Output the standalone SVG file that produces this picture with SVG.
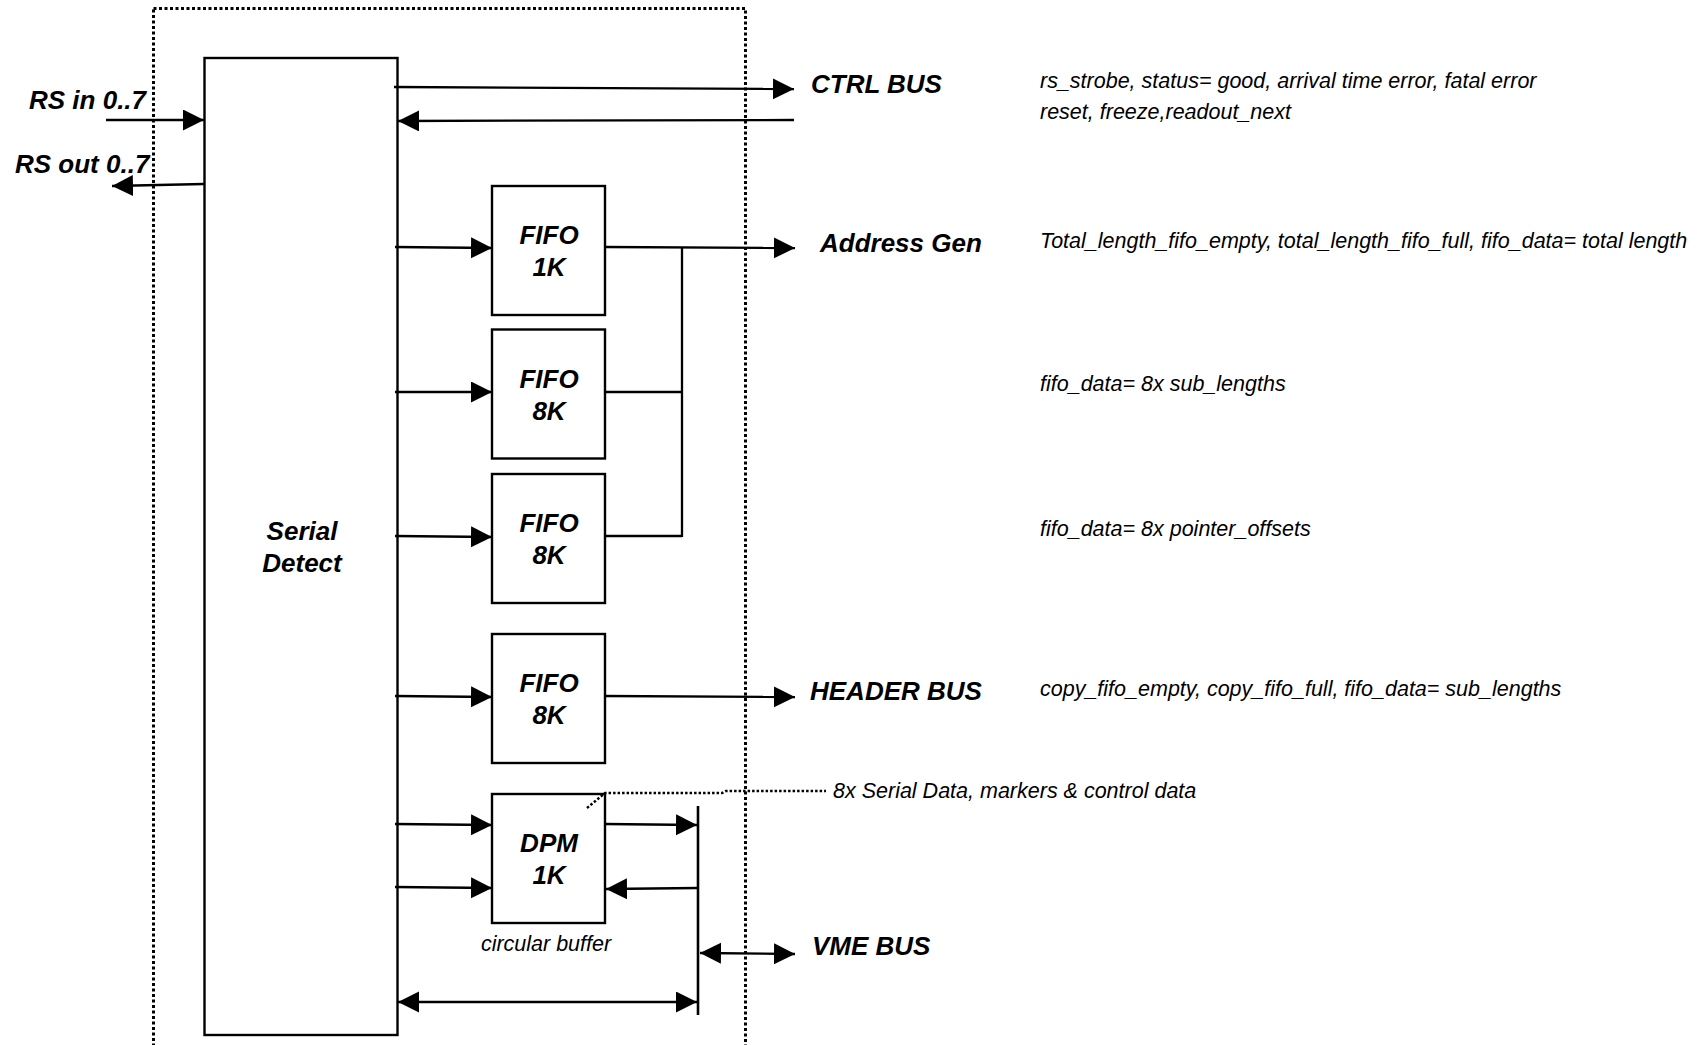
<svg xmlns="http://www.w3.org/2000/svg" width="1706" height="1045" viewBox="0 0 1706 1045">
<style>
  .box { fill: #ffffff; stroke: #000000; stroke-width: 2.4; }
  .frame { fill: none; stroke: #000000; stroke-width: 3; stroke-dasharray: 3 2.5; }
  .wire { fill: none; stroke: #000000; stroke-width: 2.3; }
  .arr { fill: none; stroke: #000000; stroke-width: 2.3; marker-end: url(#ah); }
  .darr { fill: none; stroke: #000000; stroke-width: 2.3; marker-end: url(#ah); marker-start: url(#ah); }
  .dots { fill: none; stroke: #000000; stroke-width: 2.5; stroke-dasharray: 2.5 2; }
  .lbl { font-family: "Liberation Sans", Arial, Helvetica, sans-serif; font-weight: bold; font-style: italic; font-size: 26px; fill: #000000; }
  .desc { font-family: "Liberation Sans", Arial, Helvetica, sans-serif; font-style: italic; font-size: 21.5px; fill: #000000; }
  .mid { text-anchor: middle; }
</style>
<defs>
  <marker id="ah" markerUnits="userSpaceOnUse" markerWidth="22" markerHeight="22" refX="21" refY="10.5" orient="auto-start-reverse">
    <path d="M0,0 L21,10.5 L0,21 Z" fill="#000000"/>
  </marker>
</defs>
<rect width="1706" height="1045" fill="#ffffff"/>

<g id="frame">
  <rect class="frame" x="153.5" y="8.5" width="592" height="1060"/>
</g>

<g id="serial-detect">
  <rect class="box" x="204.5" y="58" width="193" height="977"/>
  <text class="lbl mid" x="302" y="540">Serial</text>
  <text class="lbl mid" x="302" y="572">Detect</text>
</g>

<g id="fifo-1k">
  <rect class="box" x="492" y="186" width="113" height="129"/>
  <text class="lbl mid" x="549" y="244">FIFO</text>
  <text class="lbl mid" x="549" y="276">1K</text>
</g>

<g id="fifo-8k-a">
  <rect class="box" x="492" y="329.5" width="113" height="129"/>
  <text class="lbl mid" x="549" y="387.5">FIFO</text>
  <text class="lbl mid" x="549" y="419.5">8K</text>
</g>

<g id="fifo-8k-b">
  <rect class="box" x="492" y="474" width="113" height="129"/>
  <text class="lbl mid" x="549" y="532">FIFO</text>
  <text class="lbl mid" x="549" y="564">8K</text>
</g>

<g id="fifo-8k-c">
  <rect class="box" x="492" y="634" width="113" height="129"/>
  <text class="lbl mid" x="549" y="692">FIFO</text>
  <text class="lbl mid" x="549" y="724">8K</text>
</g>

<g id="dpm-1k">
  <rect class="box" x="492" y="794" width="113" height="129"/>
  <text class="lbl mid" x="549" y="852">DPM</text>
  <text class="lbl mid" x="549" y="884">1K</text>
  <text class="desc mid" x="546" y="951">circular buffer</text>
</g>

<g id="rs-in">
  <text class="lbl" x="29" y="109">RS in 0..7</text>
</g>
<g id="rs-out">
  <text class="lbl" x="15" y="173">RS out 0..7</text>
</g>

<g id="ctrl-bus">
  <text class="lbl" x="811" y="93">CTRL BUS</text>
  <text class="desc" x="1040" y="88">rs_strobe, status= good, arrival time error, fatal error</text>
  <text class="desc" x="1040" y="119">reset, freeze,readout_next</text>
</g>

<g id="address-gen">
  <text class="lbl" x="820" y="252">Address Gen</text>
  <text class="desc" x="1040" y="248">Total_length_fifo_empty, total_length_fifo_full, fifo_data= total length</text>
  <text class="desc" x="1040" y="391">fifo_data= 8x sub_lengths</text>
  <text class="desc" x="1040" y="536">fifo_data= 8x pointer_offsets</text>
</g>

<g id="header-bus">
  <text class="lbl" x="810" y="700">HEADER BUS</text>
  <text class="desc" x="1040" y="696">copy_fifo_empty, copy_fifo_full, fifo_data= sub_lengths</text>
</g>

<g id="serial-data">
  <text class="desc" x="833" y="798">8x Serial Data, markers &amp; control data</text>
</g>

<g id="vme-bus">
  <text class="lbl" x="812" y="955">VME BUS</text>
</g>

<g id="connectors">
  <line class="arr" x1="106" y1="120" x2="204" y2="120"/>
  <line class="arr" x1="204" y1="184" x2="112" y2="186"/>
  <line class="arr" x1="394" y1="87" x2="794" y2="89"/>
  <line class="arr" x1="794" y1="120" x2="398" y2="121"/>

  <line class="arr" x1="395" y1="247" x2="492" y2="248"/>
  <line class="arr" x1="395" y1="392" x2="492" y2="392"/>
  <line class="arr" x1="395" y1="536" x2="492" y2="537"/>
  <line class="arr" x1="605" y1="247" x2="795" y2="248"/>
  <polyline class="wire" points="605,392 682,392"/>
  <polyline class="wire" points="605,536 682,536"/>
  <line class="wire" x1="682" y1="247" x2="682" y2="537"/>

  <line class="arr" x1="395" y1="696" x2="492" y2="697"/>
  <line class="arr" x1="605" y1="696" x2="795" y2="697"/>

  <line class="arr" x1="395" y1="824" x2="492" y2="825"/>
  <line class="arr" x1="395" y1="887" x2="492" y2="888"/>
  <line class="arr" x1="605" y1="824" x2="697" y2="825"/>
  <line class="arr" x1="698" y1="888" x2="606" y2="889"/>
  <line class="wire" style="stroke-width:2.6" x1="698" y1="806" x2="698" y2="1015"/>
  <line class="darr" x1="700" y1="953" x2="795" y2="954"/>
  <line class="darr" x1="398" y1="1002" x2="697" y2="1002"/>

  <polyline class="dots" points="587,808 605,793 722,793 726,791 826,791"/>
</g>
</svg>
